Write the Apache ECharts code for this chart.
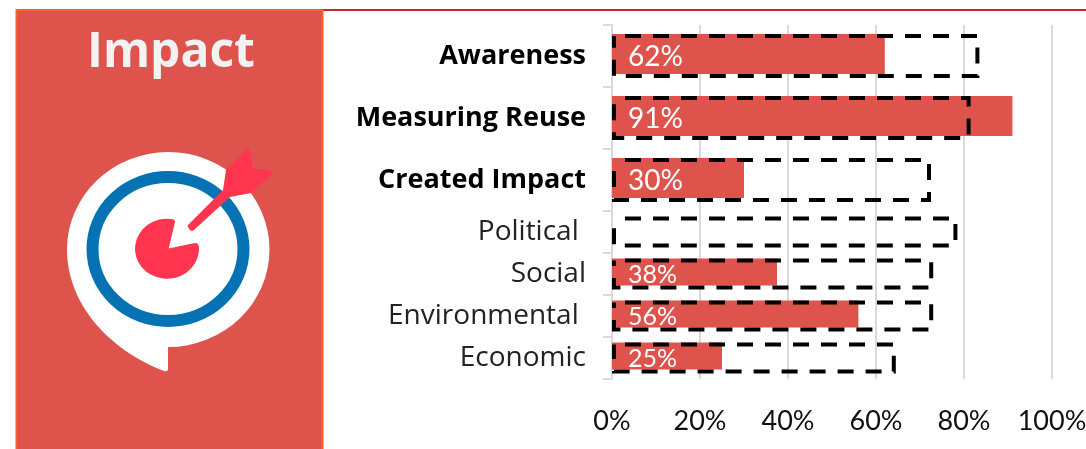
<!DOCTYPE html>
<html>
<head>
<meta charset="utf-8">
<style>
  html, body { margin: 0; padding: 0; background: #fff; }
  #main { width: 1086px; height: 449px; }
</style>
<script src="https://cdn.jsdelivr.net/npm/echarts@6/dist/echarts.min.js"></script>
</head>
<body>
<div id="main"></div>
<script>
// main rows (bold, taller) and the impact breakdown rows
var mainCategories = ['Awareness', 'Measuring Reuse', 'Created Impact'];
var mainActual = [62, 91, 30];
var mainTarget = [83.5, 81.5, 72.5];
var subCategories = ['Political ', 'Social', 'Environmental ', 'Economic'];
var subActual = [null, 37.5, 56, 25];
var subTarget = [78.5, 73, 73, 64.5];
var xTicks = [0, 20, 40, 60, 80, 100];

var RED = '#DE544C';
var GRID = '#D9D9D9';

// the graphic component has no plain path type, so the icon parts get registered
var g = echarts.graphic;
g.registerShape('iconBubble', g.extendPath('M168 152A101.5 97.5 0 0 1 168 347L168 369Q168 372 164 371C110 350 67 305 67 249A101.5 97.5 0 0 1 168 152Z'));
g.registerShape('iconRing', g.extendPath('M92.5 249A75.5 72 0 1 1 243.5 249A75.5 72 0 1 1 92.5 249Z'));
g.registerShape('iconPie', g.extendPath('M169 247L175 222Q175 219 171 219A32 30 0 1 0 199 248Q199 243 195 243L171 248Q168 249 169 247Z'));
g.registerShape('iconArrow', g.extendPath('M247 149Q250 149 250 152L253 168L272 171Q274 172 272 174L251 193L230 197L194 230Q192 232 190 230L188 227Q187 225 189 224L223 190L226 170Z'));

function xAxis(gridIndex, showLabel) {
  return {
    type: 'value',
    gridIndex: gridIndex,
    min: xTicks[0],
    max: xTicks[xTicks.length - 1],
    interval: xTicks[1] - xTicks[0],
    axisLine: { show: false },
    axisTick: { show: false },
    splitLine: { show: true, lineStyle: { color: GRID, width: 2 } },
    axisLabel: {
      show: showLabel,
      formatter: '{value}%',
      margin: 29,
      color: '#111',
      fontFamily: 'Lato',
      fontSize: 27
    }
  };
}

function yAxis(gridIndex, data, fontWeight, fontSize) {
  return {
    type: 'category',
    gridIndex: gridIndex,
    inverse: true,
    data: data,
    axisLine: { show: true, lineStyle: { color: GRID, width: 2 } },
    axisTick: { show: true, length: 9, lineStyle: { color: GRID, width: 2 } },
    axisLabel: {
      margin: 26,
      color: fontWeight === 'bold' ? '#000' : '#222',
      fontFamily: 'Open Sans',
      fontWeight: fontWeight,
      fontSize: fontSize
    }
  };
}

function actualSeries(axisIndex, data, barWidth, labelSize) {
  return {
    type: 'bar',
    xAxisIndex: axisIndex,
    yAxisIndex: axisIndex,
    data: data,
    barWidth: barWidth,
    barGap: '-100%',
    itemStyle: { color: RED },
    label: {
      show: true,
      position: 'insideLeft',
      distance: 16,
      offset: [0, 3],
      color: '#fff',
      fontFamily: 'Lato',
      fontSize: labelSize,
      formatter: function (p) { return Math.round(p.value) + '%'; }
    }
  };
}

// echarts keeps the border inside the bar, so these are 4px wider than the fill
function targetSeries(axisIndex, data, barWidth) {
  return {
    type: 'bar',
    xAxisIndex: axisIndex,
    yAxisIndex: axisIndex,
    data: data,
    barWidth: barWidth + 4,
    barGap: '-100%',
    z: 3,
    itemStyle: {
      color: 'transparent',
      borderColor: '#000',
      borderWidth: 4,
      borderType: [16, 12],
      borderDashOffset: 17
    }
  };
}

var chart = echarts.init(document.getElementById('main'));
chart.setOption({
  animation: false,
  backgroundColor: '#fff',
  grid: [
    { left: 612, top: 25, width: 440, height: 186, outerBoundsMode: 'none' },
    { left: 612, top: 211, width: 440, height: 168, outerBoundsMode: 'none' }
  ],
  xAxis: [xAxis(0, false), xAxis(1, true)],
  yAxis: [
    yAxis(0, mainCategories, 'bold', 27),
    yAxis(1, subCategories, 'normal', 28)
  ],
  series: [
    actualSeries(0, mainActual, 40, 28),
    targetSeries(0, mainTarget, 40),
    actualSeries(1, subActual, 27, 25),
    targetSeries(1, subTarget, 27)
  ],
  graphic: [
    { type: 'rect', z: 1, shape: { x: 323, y: 9, width: 763, height: 2 }, style: { fill: '#C8262A' } },
    { type: 'rect', z: 1, shape: { x: 16.5, y: 10, width: 306, height: 445 },
      style: { fill: RED, stroke: '#FA5F30', lineWidth: 2 } },
    { type: 'text', z: 2, x: 171, y: 53,
      style: { text: 'Impact', fill: '#F2F2F2', font: 'bold 48px "Open Sans"', textAlign: 'center', textVerticalAlign: 'middle' } },
    // target icon
    { type: 'iconBubble', z: 2, style: { fill: '#fff' } },
    { type: 'iconRing', z: 2, style: { fill: 'none', stroke: '#0573B3', lineWidth: 12 } },
    { type: 'iconPie', z: 3, style: { fill: '#FF3550' } },
    { type: 'iconArrow', z: 3, style: { fill: '#FF3550' } }
  ]
});
</script>
</body>
</html>
